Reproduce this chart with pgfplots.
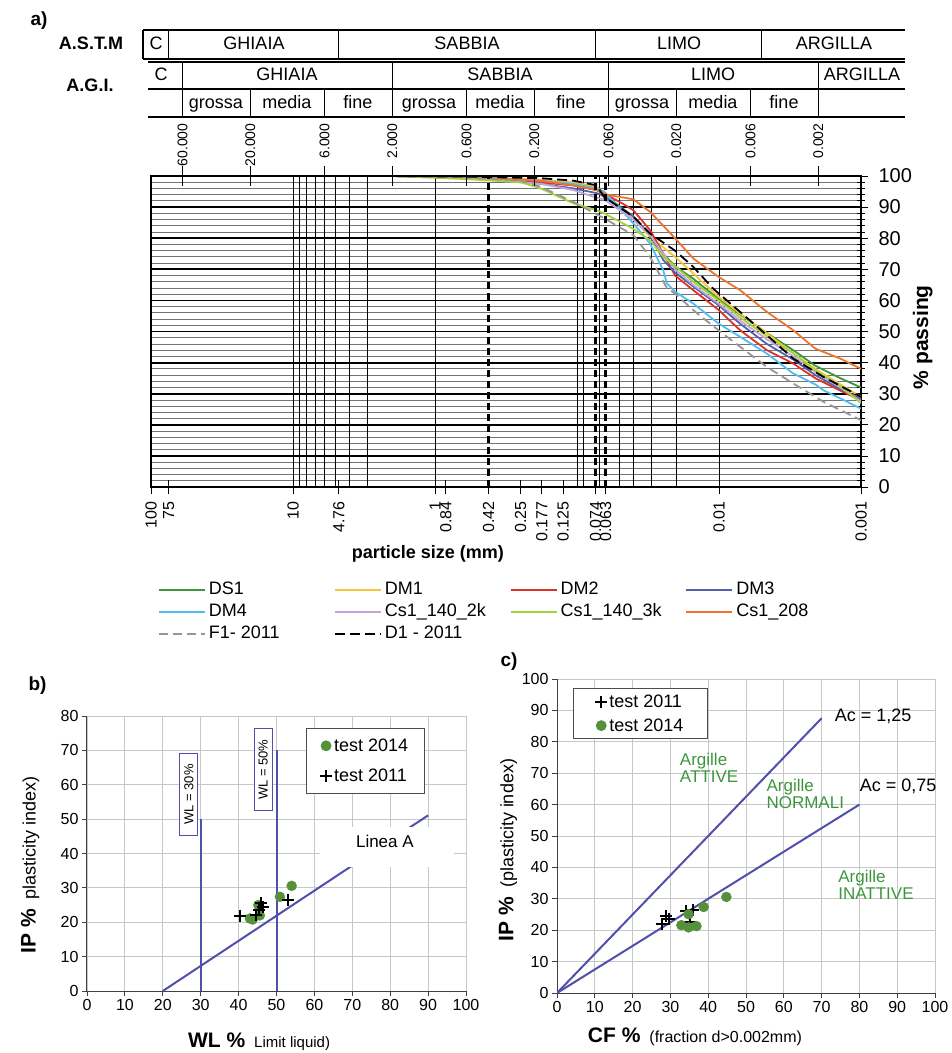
\documentclass[border=0pt]{standalone}
\usepackage{pgfplots}
\pgfplotsset{compat=1.18}
\usepackage{fontspec}
\setmainfont{Liberation Sans}
\newcommand\fs[2]{\fontsize{#1}{#2}\selectfont}
\pgfplotsset{/pgf/number format/assume math mode=true}
\pgfplotsset{
  dotlegend/.style={legend image code/.code={\draw[##1] plot coordinates {(0pt,0pt)};}},
  linelegend/.style={legend image code/.code={\draw[##1, line width=1.8pt] (0pt,0pt) -- (46pt,0pt);}},
  curve/.style={line width=1.8pt},
  plusmark/.style={only marks, mark=+, mark size=6pt, black, mark options={line width=2pt}},
  dotmark/.style={only marks, mark=*, mark size=5pt, ptgreen},
}

\definecolor{cDS}{RGB}{60,150,60}
\definecolor{cDMone}{RGB}{250,195,60}
\definecolor{cDMtwo}{RGB}{220,50,40}
\definecolor{cDMthree}{RGB}{85,95,170}
\definecolor{cDMfour}{RGB}{80,190,240}
\definecolor{cCsA}{RGB}{195,165,220}
\definecolor{cCsB}{RGB}{165,210,60}
\definecolor{cCsC}{RGB}{240,115,45}
\definecolor{cF}{RGB}{150,150,150}
\definecolor{lineblue}{RGB}{80,80,170}
\definecolor{ptgreen}{RGB}{85,145,60}
\definecolor{txtgreen}{RGB}{60,150,60}

\begin{document}
\begin{tikzpicture}
\useasboundingbox (0pt,0pt) rectangle (952pt,-1053pt);

% ---- classification table above chart a
\begin{scope}[line width=1.3pt]
\draw (143pt,-30pt) -- (905pt,-30pt);
\draw (143pt,-59pt) -- (905pt,-59pt);
\draw (148pt,-62pt) -- (905pt,-62pt);
\draw (148pt,-89pt) -- (905pt,-89pt);
\draw (148pt,-117pt) -- (905pt,-117pt);
\foreach \x in {143,168.7,338.8,595.6,761.8} \draw (\x pt,-30pt) -- (\x pt,-59pt);
\foreach \x in {182.5,392.3,608.5,818.3} \draw (\x pt,-62pt) -- (\x pt,-89pt);
\foreach \x in {182.5,250.3,324.5,392.3,466.5,534.3,608.5,676.3,750.5,818.3} \draw (\x pt,-89pt) -- (\x pt,-117pt);
\end{scope}
\begin{scope}[every node/.style={anchor=base, font=\fs{18}{18}}]
\node at (156pt,-49pt) {C};
\node at (254pt,-49pt) {GHIAIA};
\node at (467pt,-49pt) {SABBIA};
\node at (679pt,-49pt) {LIMO};
\node at (834pt,-49pt) {ARGILLA};
\node at (161pt,-80pt) {C};
\node at (287pt,-80pt) {GHIAIA};
\node at (500pt,-80pt) {SABBIA};
\node at (713pt,-80pt) {LIMO};
\node at (862pt,-80pt) {ARGILLA};
\node at (216pt,-108pt) {grossa};
\node at (287pt,-108pt) {media};
\node at (358pt,-108pt) {fine};
\node at (429pt,-108pt) {grossa};
\node at (500pt,-108pt) {media};
\node at (571pt,-108pt) {fine};
\node at (642pt,-108pt) {grossa};
\node at (713pt,-108pt) {media};
\node at (784pt,-108pt) {fine};
\node[font=\fs{18}{18}\bfseries] at (91pt,-49pt) {A.S.T.M};
\node[font=\fs{18}{18}\bfseries] at (90pt,-91pt) {A.G.I.};
\end{scope}
\node[anchor=base west, font=\fs{19}{19}\bfseries] at (27pt,-25pt) {a)};
\node[anchor=base west, font=\fs{19}{19}\bfseries] at (25pt,-690pt) {b)};
\node[anchor=base west, font=\fs{19}{19}\bfseries] at (497pt,-666pt) {c)};

% ---- chart a: grain size distribution
\begin{axis}[
  at={(151pt,-487pt)}, anchor=south west,
  scale only axis, width=710pt, height=311pt,
  xmode=log, x dir=reverse, xmin=0.001, xmax=100,
  ymin=0, ymax=100,
  xtick={100,75,10,4.76,1,0.84,0.42,0.25,0.177,0.125,0.074,0.063,0.01,0.001},
  xticklabels={100,75,10,4.76,1,0.84,0.42,0.25,0.177,0.125,0.074,0.063,0.01,0.001},
  xticklabel style={rotate=90, anchor=east, font=\fs{16}{16}},
  xticklabel shift=4pt,
  xtick pos=left,
  ytick={0,10,...,100}, minor y tick num=4,
  ytick pos=right, yticklabel pos=right,
  yticklabel style={font=\fs{20}{20}},
  yticklabel shift=7pt,
  tick align=center, major tick length=14pt, minor tick length=8pt,
  tick style={black, line width=0.8pt},
  ymajorgrids, yminorgrids,
  major y grid style={black, line width=1.8pt},
  minor y grid style={black!55, line width=0.8pt},
  extra x ticks={10,9,8,7,6,5,4,3,1,0.1,0.09,0.07,0.05,0.04,0.03,0.02,0.01},
  extra x tick labels={},
  extra x tick style={xmajorgrids, major x grid style={black, line width=0.8pt}, major tick length=0pt},
  axis line style={black, line width=1.4pt},
  xlabel={particle size (mm)},
  xlabel style={at={(axis description cs:0.39,-0.215)}, anchor=center, font=\fs{18}{18}\bfseries},
  ylabel={\% passing},
  ylabel style={at={(axis description cs:1.087,0.482)}, anchor=center, font=\fs{21}{21}\bfseries},
  legend columns=4,
  legend cell align=left,
  legend style={at={(axis description cs:0.0056,-0.2894)}, anchor=north west,
    draw=none, fill=none, column sep=0pt, row sep=0pt, font=\fs{18}{18},
    nodes={inner xsep=3pt, inner ysep=2pt, text height=13pt, text depth=5pt}},
  linelegend,
]
\addplot[cDS, curve] coordinates {(2,100)(0.6,99.5)(0.18,98)(0.106,97)(0.0727,95.5)(0.0645,94)(0.0401,87)(0.0306,81)(0.0247,75)(0.0204,71)(0.0152,67)(0.0101,60.5)(0.0071,55.5)(0.0046,49.5)(0.003,44)(0.0021,39)(0.0014,35)(0.001,32)};
\addlegendentry{\makebox[122pt][l]{DS1}}
\addplot[cDMone, curve] coordinates {(2,100)(0.6,99.8)(0.18,98.8)(0.106,98)(0.0727,96.5)(0.0645,94)(0.0401,86)(0.0306,80.5)(0.0204,74)(0.0152,68.7)(0.0101,61.2)(0.0071,55.8)(0.0046,49.4)(0.003,43)(0.0021,38)(0.0014,33)(0.001,29)};
\addlegendentry{\makebox[122pt][l]{DM1}}
\addplot[cDMtwo, curve] coordinates {(2,100)(0.6,99.6)(0.18,98)(0.106,97)(0.0727,95.5)(0.0645,94.4)(0.0472,91)(0.0401,89)(0.0306,82.6)(0.0233,73)(0.0204,68)(0.0152,63.3)(0.0101,57)(0.0071,50.4)(0.0046,44)(0.003,39.7)(0.0021,35)(0.0014,31)(0.001,27.9)};
\addlegendentry{\makebox[122pt][l]{DM2}}
\addplot[cDMthree, curve] coordinates {(2,100)(0.6,99.5)(0.18,97.5)(0.106,96)(0.0727,94.5)(0.0645,93.5)(0.0401,87)(0.0306,81)(0.0247,73)(0.0204,69)(0.0152,64.5)(0.0101,58.5)(0.0071,52.5)(0.0046,46)(0.003,41)(0.0021,36)(0.0014,31.5)(0.001,28.4)};
\addlegendentry{\makebox[122pt][l]{DM3}}
\addplot[cDMfour, curve] coordinates {(2,100)(0.6,99.7)(0.18,98.5)(0.106,97.5)(0.0727,96)(0.0645,95)(0.0401,84.8)(0.0306,78.3)(0.0247,69.7)(0.0233,65.5)(0.0204,62.8)(0.0152,59)(0.0101,52.6)(0.0071,48.3)(0.0046,42.9)(0.003,36.5)(0.0021,33)(0.00184,31.1)(0.0014,28.5)(0.001,25.2)};
\addlegendentry{\makebox[122pt][l]{DM4}}
\addplot[cCsA, curve] coordinates {(2,100)(0.6,99.3)(0.18,97.5)(0.106,95.5)(0.0727,93)(0.0645,92.5)(0.0401,86)(0.0306,81)(0.0247,75)(0.0204,70)(0.0152,65)(0.0101,59)(0.0071,53.5)(0.0046,47.5)(0.003,42)(0.0021,37)(0.0014,32)(0.001,27.5)};
\addlegendentry{\makebox[122pt][l]{Cs1\_140\_2k}}
\addplot[cCsB, curve] coordinates {(2,100)(0.6,99)(0.25,98)(0.18,96)(0.106,91.2)(0.0727,89)(0.0645,88)(0.0401,83)(0.0306,79.4)(0.0247,74)(0.0204,71)(0.0152,66)(0.0101,60)(0.0071,54.5)(0.0046,48.5)(0.003,43)(0.0021,37.5)(0.0014,32.5)(0.001,27)};
\addlegendentry{\makebox[122pt][l]{Cs1\_140\_3k}}
\addplot[cCsC, curve] coordinates {(2,100)(0.6,99.7)(0.18,98.5)(0.106,97)(0.0727,95.5)(0.0618,94)(0.0401,92.5)(0.0306,88.5)(0.0204,80)(0.0152,73.5)(0.0101,67.6)(0.0071,63.3)(0.0046,56.3)(0.003,50.4)(0.0021,44.5)(0.0014,41.3)(0.001,38)};
\addlegendentry{\makebox[122pt][l]{Cs1\_208}}
\addplot[cF, curve, dash pattern=on 9pt off 5pt] coordinates {(2,100)(0.6,99.5)(0.25,98.5)(0.18,96.5)(0.106,91.7)(0.0645,86.4)(0.0401,81)(0.0306,74)(0.0233,64)(0.0204,62.2)(0.0152,56.9)(0.0101,50.4)(0.0071,45.1)(0.0046,38.6)(0.003,33.3)(0.00184,27.4)(0.001,21.5)};
\addlegendentry{\makebox[122pt][l]{F1- 2011}}
\addplot[black, curve, dash pattern=on 10pt off 5pt] coordinates {(2,100)(0.6,99.8)(0.18,99.3)(0.106,98.5)(0.0727,97)(0.0645,93.3)(0.0401,86.9)(0.0306,81.5)(0.0204,76)(0.0152,70.8)(0.011,63.8)(0.0071,56.3)(0.0046,48.8)(0.003,41.3)(0.00184,35.4)(0.001,29)};
\addlegendentry{\makebox[122pt][l]{D1 - 2011}}
\addplot[forget plot, black, line width=2.2pt, dash pattern=on 7pt off 4pt] coordinates {(0.42,0)(0.42,100)};
\addplot[forget plot, black, line width=2.2pt, dash pattern=on 7pt off 4pt] coordinates {(0.074,0)(0.074,100)};
\addplot[forget plot, black, line width=2.2pt, dash pattern=on 7pt off 4pt] coordinates {(0.063,0)(0.063,100)};
\end{axis}

% ---- top tick labels of chart a
\begin{axis}[
  at={(151pt,-487pt)}, anchor=south west,
  scale only axis, width=710pt, height=311pt,
  xmode=log, x dir=reverse, xmin=0.001, xmax=100,
  ymin=0, ymax=100,
  axis x line*=top, axis y line=none,
  axis line style={-, black, line width=1.4pt},
  xtick={60,20,6,2,0.6,0.2,0.06,0.02,0.006,0.002},
  xticklabels={60.000,20.000,6.000,2.000,0.600,0.200,0.060,0.020,0.006,0.002},
  xticklabel style={rotate=90, anchor=east, font=\fs{14}{14}},
  xticklabel shift=46pt,
  tick align=center, major tick length=20pt,
  tick style={black, line width=0.9pt},
]
\addplot[draw=none] coordinates {(1,50)};
\end{axis}

% ---- chart b: plasticity chart
\begin{axis}[
  at={(87pt,-991pt)}, anchor=south west,
  scale only axis, width=379pt, height=275pt,
  xmin=0, xmax=100, ymin=0, ymax=80,
  xtick={0,10,...,100}, ytick={0,10,...,80},
  axis x line*=bottom, axis y line*=left,
  axis line style={-, black!75, line width=1pt},
  grid=major, major grid style={black!22, line width=0.8pt},
  tick align=outside, major tick length=5pt,
  tick style={black!75, line width=0.8pt},
  tick label style={font=\fs{16}{16}},
  xlabel={{\fs{21}{21}\bfseries WL \%}\hspace{9pt}{\fs{15}{15}Limit liquid)}},
  xlabel style={at={(axis description cs:0.454,-0.185)}, anchor=center},
  ylabel={{\fs{21}{21}\bfseries IP \%}\hspace{9pt}{\fs{18}{18}plasticity index)}},
  ylabel style={at={(axis description cs:-0.150,0.458)}, anchor=center},
  legend cell align=left,
  legend style={at={(axis cs:57.7,76.4)}, anchor=north west, draw=black!70,
    line width=0.8pt, font=\fs{18}{18}, inner xsep=14pt, inner ysep=8pt, row sep=12pt},
]
\addplot[forget plot, lineblue, line width=2pt] coordinates {(30,0)(30,50)};
\addplot[forget plot, lineblue, line width=2pt] coordinates {(50,0)(50,70)};
\addplot[forget plot, lineblue, line width=2pt] coordinates {(20,0)(90,51.1)};
\addplot[dotmark, dotlegend]
  coordinates {(43,21.1)(43.7,20.8)(45.6,22)(45.2,25)(50.9,27.4)(54,30.6)};
\addlegendentry{test 2014}
\addplot[plusmark, dotlegend]
  coordinates {(40.5,21.9)(44.7,22)(45.4,23.5)(45.9,25.6)(46.5,24.5)(53.1,26.6)};
\addlegendentry{test 2011}
\node[fill=white, minimum width=134pt, minimum height=40pt, inner sep=0pt] at (axis cs:79.05,41.95) {};
\node[font=\fs{17}{17}] at (axis cs:78.6,43.4) {Linea A};
\node[draw=lineblue, line width=1pt, fill=white, rotate=90, minimum width=82pt, minimum height=18pt, inner sep=1pt, font=\fs{13}{13}] at (axis cs:26.9,57.2) {WL = 30\%};
\node[draw=lineblue, line width=1pt, fill=white, rotate=90, minimum width=82pt, minimum height=18pt, inner sep=1pt, font=\fs{13}{13}] at (axis cs:46.5,64.4) {WL = 50\%};
\end{axis}

% ---- chart c: activity chart
\begin{axis}[
  at={(557pt,-993pt)}, anchor=south west,
  scale only axis, width=378pt, height=314pt,
  xmin=0, xmax=100, ymin=0, ymax=100,
  xtick={0,10,...,100}, ytick={0,10,...,100},
  axis x line*=bottom, axis y line*=left,
  axis line style={-, black!75, line width=1pt},
  grid=major, major grid style={black!22, line width=0.8pt},
  tick align=outside, major tick length=5pt,
  tick style={black!75, line width=0.8pt},
  tick label style={font=\fs{16}{16}},
  xlabel={{\fs{21}{21}\bfseries CF \%}\hspace{9pt}{\fs{16}{16}(fraction d>0.002mm)}},
  xlabel style={at={(axis description cs:0.365,-0.140)}, anchor=center},
  ylabel={{\fs{21}{21}\bfseries IP \%}\hspace{9pt}{\fs{18}{18}(plasticity index)}},
  ylabel style={at={(axis description cs:-0.130,0.455)}, anchor=center},
  legend cell align=left,
  legend style={at={(axis cs:4.2,97.1)}, anchor=north west, draw=black!70,
    line width=0.8pt, font=\fs{18}{18}, inner xsep=22pt, inner ysep=4pt, row sep=6pt},
]
\addplot[forget plot, lineblue, line width=2pt] coordinates {(0,0)(70,87.5)};
\addplot[forget plot, lineblue, line width=2pt] coordinates {(0,0)(80,60)};
\addplot[plusmark, dotlegend]
  coordinates {(27.7,22)(28.9,24.5)(29.6,23.6)(34.2,26)(35.9,26.5)(35.1,22.5)};
\addlegendentry{test 2011}
\addplot[dotmark, dotlegend]
  coordinates {(32.9,21.6)(34.8,25.1)(34.8,20.9)(36.9,21.3)(38.8,27.4)(44.8,30.6)};
\addlegendentry{test 2014}
\node[anchor=west, font=\fs{18}{18}] at (axis cs:72.6,88) {Ac = 1,25};
\node[anchor=west, font=\fs{18}{18}] at (axis cs:79.2,65.7) {Ac = 0,75};
\node[anchor=west, align=left, text=txtgreen, font=\fs{17}{17}] at (axis cs:31.6,71.7) {Argille\\ATTIVE};
\node[anchor=west, align=left, text=txtgreen, font=\fs{17}{17}] at (axis cs:54.5,63.5) {Argille\\NORMALI};
\node[anchor=west, align=left, text=txtgreen, font=\fs{17}{17}] at (axis cs:73.5,34.3) {Argille\\INATTIVE};
\end{axis}
\end{tikzpicture}
\end{document}
